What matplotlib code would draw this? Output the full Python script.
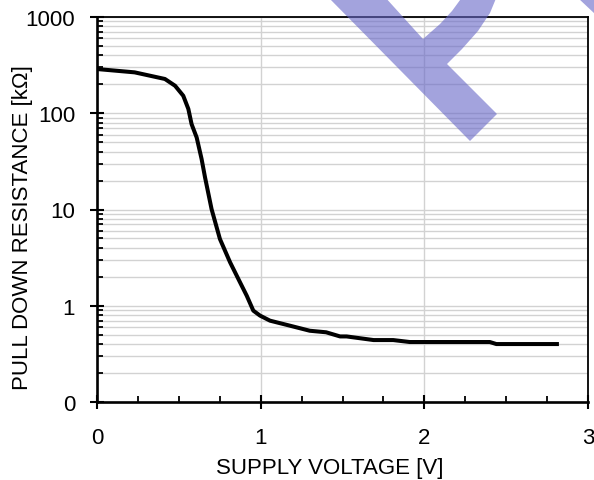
import numpy as np
import matplotlib.pyplot as plt
from matplotlib.patches import Polygon
from matplotlib.ticker import FixedLocator, FixedFormatter, LogLocator, MultipleLocator, NullFormatter

plt.rcParams['font.family'] = ['Liberation Sans', 'DejaVu Sans']

# ---------------------------------------------------------
# data
# ---------------------------------------------------------
voltage = [0.0, 0.23, 0.415, 0.477, 0.527, 0.558, 0.578, 0.609, 0.639, 0.66,
           0.70, 0.751, 0.813, 0.874, 0.915, 0.955, 0.996, 1.057, 1.18, 1.30,
           1.40, 1.485, 1.525, 1.69, 1.81, 1.91, 2.40, 2.44, 2.81]
resistance = [288, 266, 227, 193, 152, 111, 77, 56, 33.5, 21.6,
              10.1, 4.94, 2.83, 1.75, 1.27, 0.89, 0.79, 0.70, 0.62, 0.55,
              0.53, 0.48, 0.48, 0.44, 0.44, 0.42, 0.42, 0.40, 0.40]

y_ticks = [0.1, 1, 10, 100, 1000]
y_tick_labels = ["0", "1", "10", "100", "1000"]
x_ticks = [0, 1, 2, 3]

W, H = 594, 481
FS = 16

fig = plt.figure(figsize=(W / 100, H / 100), dpi=100)
ax = fig.add_axes([97 / W, 1 - 403 / H, (588 - 97) / W, (403 - 18) / H])

ax.plot(voltage, resistance, color="black", lw=2.9, solid_joinstyle="round", zorder=3)

ax.set_yscale("log")
ax.set_xlim(0, 3)
ax.set_ylim(0.1, 1000)

ax.yaxis.set_major_locator(FixedLocator(y_ticks))
ax.yaxis.set_major_formatter(FixedFormatter(y_tick_labels))
ax.yaxis.set_minor_locator(LogLocator(base=10, subs=np.arange(2, 10)))
ax.yaxis.set_minor_formatter(NullFormatter())
ax.xaxis.set_major_locator(FixedLocator(x_ticks))
ax.xaxis.set_minor_locator(MultipleLocator(0.25))

ax.grid(True, which="major", axis="x", color="#d2d2d2", lw=1.0)
ax.grid(True, which="both", axis="y", color="#d2d2d2", lw=1.0)
ax.set_axisbelow(True)

ax.tick_params(which="major", direction="inout", length=9.4, width=1.5, labelsize=FS)
ax.tick_params(axis="y", which="major", pad=11)
ax.tick_params(axis="x", which="major", pad=13)
ax.tick_params(which="minor", direction="in", length=4.3, width=1.3)

for side in ["left", "bottom"]:
    ax.spines[side].set_linewidth(1.9)
for side in ["top", "right"]:
    ax.spines[side].set_linewidth(1.3)

ax.set_xlabel("SUPPLY VOLTAGE [V]", fontsize=FS)
ax.set_ylabel("PULL DOWN RESISTANCE [kΩ]", fontsize=FS)
ax.xaxis.set_label_coords(0.4745, -0.143)
ax.yaxis.set_label_coords(-0.130, 0.456)


# watermark shape (pixel coords of the figure)
def px(points):
    return [(x / W, 1 - y / H) for x, y in points]


mark = [(327, -3), (470, 142), (497, 115), (447, 65), (462, 50), (478, 32),
        (490, 14), (497, -3), (463, -3), (452, 12), (440, 25), (423, 40), (384, -3)]
corner = [(578, -1), (595, -1), (595, 15)]

for shape in [mark, corner]:
    fig.add_artist(Polygon(px(shape), closed=True, transform=fig.transFigure,
                           facecolor=(0.40, 0.40, 0.78), edgecolor="none", alpha=0.6, zorder=10))

fig.savefig("out.png", dpi=100)
